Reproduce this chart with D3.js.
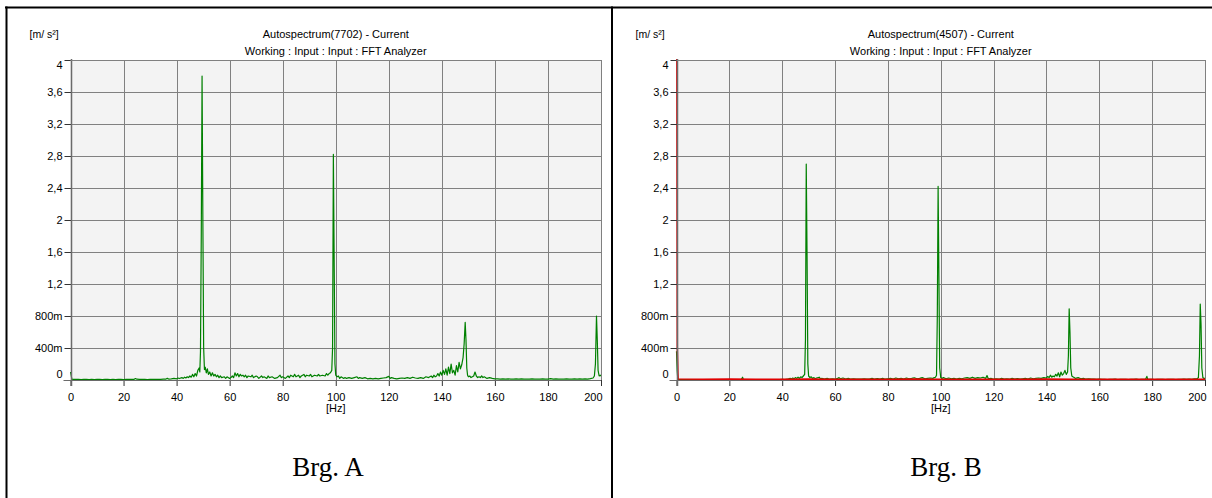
<!DOCTYPE html>
<html><head><meta charset="utf-8">
<script src="https://cdn.jsdelivr.net/npm/d3@7"></script>
<style>body{margin:0;background:#fff}svg{display:block}</style>
</head><body>
<svg id="c" width="1212" height="498"></svg>
<script>
// ---------- data ----------
const xTicks = [0,20,40,60,80,100,120,140,160,180,200];
const xTickLabels = ["0","20","40","60","80","100","120","140","160","180","200"];
const yTicks = [0,0.4,0.8,1.2,1.6,2,2.4,2.8,3.2,3.6,4];
const yTickLabels = ["0","400m","800m","1,2","1,6","2","2,4","2,8","3,2","3,6","4"];
const unitY = "[m/ s²]";
const unitX = "[Hz]";
const titleA = ["Autospectrum(7702) - Current","Working : Input : Input : FFT Analyzer"];
const titleB = ["Autospectrum(4507) - Current","Working : Input : Input : FFT Analyzer"];
const captionA = "Brg. A";
const captionB = "Brg. B";

// Brg. A green spectrum [Hz, m/s²]
const specA = [[0,0.10],[0.25,0.06],[0.5,0.01],[1,0.008],[2,0.007],[3,0.008],[4,0.006],[5,0.007],[6,0.008],[7,0.006],[8,0.007],[9,0.006],[10,0.008],[11,0.007],[12,0.006],[13,0.007],[14,0.008],[15,0.006],[16,0.007],[17,0.006],[18,0.007],[19,0.008],[20,0.006],[21,0.007],[22,0.008],[23,0.007],[24,0.008],[24.5,0.018],[25,0.01],[26,0.008],[27,0.007],[28,0.008],[29,0.006],[30,0.008],[31,0.007],[32,0.008],[33,0.009],[34,0.008],[35,0.01],[36,0.012],[36.5,0.02],[37,0.012],[38,0.015],[39,0.02],[40,0.015],[40.5,0.025],[41,0.018],[42,0.03],[42.5,0.02],[43,0.035],[43.5,0.025],[44,0.04],[44.5,0.03],[45,0.05],[45.5,0.035],[46,0.07],[46.5,0.04],[47,0.08],[47.5,0.05],[48,0.12],[48.5,0.15],[48.75,0.1],[49,0.35],[49.3,1.8],[49.6,3.8],[49.9,2.0],[50.2,0.4],[50.5,0.13],[50.8,0.16],[51.2,0.09],[51.6,0.14],[52,0.07],[52.5,0.1],[53,0.05],[53.5,0.09],[54,0.05],[54.5,0.07],[55,0.04],[55.5,0.06],[56,0.03],[56.5,0.05],[57,0.03],[58,0.04],[58.5,0.02],[59,0.04],[60,0.02],[60.5,0.03],[61,0.05],[61.5,0.03],[62,0.09],[62.5,0.05],[63,0.08],[63.5,0.04],[64,0.07],[64.5,0.05],[65,0.06],[65.5,0.04],[66,0.06],[66.5,0.03],[67,0.05],[68,0.04],[68.5,0.06],[69,0.03],[70,0.05],[70.5,0.04],[71,0.02],[72,0.05],[72.5,0.03],[73,0.04],[74,0.02],[74.5,0.05],[75,0.03],[76,0.04],[77,0.02],[78,0.03],[79,0.06],[79.5,0.03],[80,0.04],[81,0.02],[82,0.05],[82.5,0.03],[83,0.06],[84,0.04],[84.5,0.07],[85,0.04],[86,0.06],[86.5,0.03],[87,0.05],[88,0.07],[88.5,0.04],[89,0.06],[90,0.05],[90.5,0.07],[91,0.04],[92,0.06],[93,0.05],[93.5,0.07],[94,0.05],[95,0.06],[96,0.05],[96.5,0.08],[97,0.06],[97.5,0.08],[98,0.09],[98.5,0.12],[98.8,0.4],[99.1,2.82],[99.4,1.5],[99.7,0.2],[100,0.06],[100.5,0.04],[101,0.05],[101.5,0.02],[102,0.04],[103,0.02],[103.5,0.03],[104,0.02],[105,0.03],[106,0.02],[107,0.03],[108,0.04],[108.5,0.02],[109,0.03],[110,0.02],[111,0.03],[112,0.015],[113,0.02],[114,0.015],[115,0.02],[116,0.015],[117,0.02],[118,0.025],[119,0.03],[120,0.045],[120.5,0.02],[121,0.03],[122,0.02],[123,0.015],[124,0.02],[125,0.025],[126,0.02],[127,0.03],[128,0.02],[129,0.035],[130,0.025],[131,0.02],[132,0.03],[133,0.02],[134,0.04],[135,0.03],[136,0.05],[136.5,0.03],[137,0.06],[137.5,0.04],[138,0.05],[138.5,0.08],[139,0.05],[139.5,0.1],[140,0.06],[140.5,0.12],[141,0.07],[141.5,0.14],[142,0.06],[142.5,0.16],[143,0.08],[143.5,0.2],[144,0.09],[144.5,0.12],[145,0.06],[145.5,0.18],[146,0.1],[146.5,0.22],[147,0.14],[147.5,0.19],[148,0.28],[148.4,0.45],[148.8,0.72],[149.1,0.5],[149.4,0.15],[149.7,0.06],[150,0.04],[150.5,0.05],[151,0.03],[152,0.05],[152.5,0.1],[153,0.05],[153.5,0.03],[154,0.04],[154.5,0.03],[155,0.05],[155.5,0.03],[156,0.04],[157,0.02],[158,0.03],[159,0.02],[160,0.015],[161,0.015],[162,0.012],[163,0.014],[164,0.011],[165,0.013],[166,0.01],[167,0.012],[168,0.014],[169,0.011],[170,0.013],[171,0.01],[172,0.012],[173,0.011],[174,0.013],[175,0.01],[176,0.012],[177,0.011],[178,0.014],[179,0.01],[180,0.012],[181,0.018],[182,0.011],[183,0.013],[184,0.01],[185,0.012],[186,0.011],[187,0.013],[188,0.01],[189,0.012],[190,0.014],[191,0.011],[192,0.013],[193,0.01],[194,0.015],[195,0.012],[196,0.018],[197,0.025],[197.5,0.05],[197.9,0.2],[198.3,0.8],[198.6,0.5],[198.9,0.12],[199.3,0.05],[199.7,0.06],[200,0.05]];

// Brg. B green spectrum [Hz, m/s²]
const specB = [[0,0.36],[0.25,0.12],[0.5,0.008],[1,0.005],[2,0.004],[3,0.005],[4,0.004],[5,0.006],[6,0.004],[7,0.005],[8,0.004],[9,0.005],[10,0.006],[11,0.004],[12,0.005],[13,0.004],[14,0.005],[15,0.006],[16,0.004],[17,0.005],[18,0.004],[19,0.005],[20,0.006],[21,0.004],[22,0.005],[23,0.004],[24,0.005],[24.5,0.006],[25,0.035],[25.3,0.008],[26,0.005],[27,0.004],[28,0.005],[29,0.004],[30,0.005],[31,0.006],[32,0.004],[33,0.005],[34,0.004],[35,0.005],[36,0.006],[37,0.005],[38,0.006],[39,0.005],[40,0.008],[41,0.006],[42,0.01],[43,0.02],[43.5,0.012],[44,0.025],[44.5,0.015],[45,0.03],[45.5,0.02],[46,0.035],[46.5,0.02],[47,0.04],[47.5,0.03],[48,0.05],[48.5,0.07],[48.8,0.5],[49.1,2.7],[49.4,1.6],[49.7,0.2],[50,0.05],[50.5,0.03],[51,0.04],[51.5,0.02],[52,0.03],[52.5,0.015],[53,0.025],[54,0.035],[54.5,0.015],[55,0.02],[56,0.012],[57,0.02],[58,0.01],[59,0.015],[60,0.01],[61,0.02],[61.5,0.03],[62,0.015],[63,0.025],[64,0.012],[65,0.02],[66,0.01],[67,0.015],[68,0.01],[69,0.012],[70,0.01],[71,0.015],[72,0.01],[73,0.012],[74,0.02],[75,0.01],[76,0.018],[77,0.012],[78,0.02],[79,0.01],[80,0.015],[81,0.02],[82,0.012],[83,0.025],[84,0.015],[85,0.02],[86,0.012],[87,0.025],[88,0.015],[89,0.02],[90,0.028],[91,0.015],[92,0.02],[93,0.03],[94,0.015],[95,0.02],[96,0.025],[97,0.02],[97.5,0.03],[98,0.035],[98.4,0.06],[98.7,0.8],[99,2.42],[99.3,1.3],[99.6,0.15],[100,0.03],[100.5,0.02],[101,0.03],[102,0.015],[103,0.025],[104,0.015],[105,0.02],[106,0.012],[107,0.02],[108,0.015],[109,0.025],[110,0.03],[111,0.02],[112,0.035],[113,0.02],[114,0.03],[115,0.025],[116,0.035],[117,0.02],[117.5,0.055],[118,0.015],[119,0.02],[120,0.01],[121,0.015],[122,0.01],[123,0.02],[124,0.012],[125,0.015],[126,0.01],[127,0.02],[128,0.012],[129,0.018],[130,0.01],[131,0.015],[132,0.02],[133,0.012],[134,0.025],[135,0.015],[136,0.02],[137,0.025],[138,0.02],[139,0.03],[140,0.025],[140.5,0.045],[141,0.03],[141.5,0.06],[142,0.035],[142.5,0.05],[143,0.04],[143.5,0.07],[144,0.05],[144.5,0.09],[145,0.04],[145.5,0.1],[146,0.06],[146.5,0.08],[147,0.12],[147.5,0.07],[148,0.1],[148.3,0.3],[148.6,0.89],[148.9,0.6],[149.2,0.15],[149.6,0.05],[150,0.04],[150.5,0.03],[151,0.02],[152,0.03],[153,0.015],[154,0.02],[155,0.01],[156,0.015],[157,0.01],[158,0.012],[159,0.008],[160,0.01],[161,0.007],[162,0.009],[163,0.006],[164,0.008],[165,0.007],[166,0.01],[167,0.006],[168,0.008],[169,0.007],[170,0.009],[171,0.006],[172,0.008],[173,0.007],[174,0.01],[175,0.006],[176,0.008],[177,0.007],[177.5,0.01],[178,0.045],[178.3,0.01],[179,0.007],[180,0.008],[181,0.006],[182,0.009],[183,0.007],[184,0.008],[185,0.006],[186,0.009],[187,0.007],[188,0.008],[189,0.006],[190,0.009],[191,0.007],[192,0.01],[193,0.008],[194,0.012],[195,0.009],[196,0.015],[197,0.015],[197.5,0.03],[197.9,0.3],[198.2,0.95],[198.5,0.7],[198.8,0.15],[199.2,0.03],[199.6,0.02],[200,0.02]];

// Brg. B red trace [Hz, m/s²]
const redB = [[0,8],[0.3,0.4],[0.6,0.012],[10,0.010],[20,0.011],[30,0.009],[40,0.010],[50,0.011],[60,0.010],[70,0.009],[80,0.010],[90,0.011],[100,0.010],[110,0.010],[120,0.009],[130,0.010],[140,0.011],[150,0.010],[160,0.009],[170,0.010],[180,0.010],[190,0.009],[200,0.010]];

// ---------- drawing ----------
const svg = d3.select("#c");
const FONT = "'Liberation Sans', Arial, sans-serif";

// outer frame
svg.append("line").attr("x1",5).attr("x2",1212).attr("y1",7.5).attr("y2",7.5).attr("stroke","#000").attr("stroke-width",2);
svg.append("line").attr("x1",6.5).attr("x2",6.5).attr("y1",6.5).attr("y2",498).attr("stroke","#000").attr("stroke-width",2);
svg.append("line").attr("x1",612).attr("x2",612).attr("y1",6.5).attr("y2",498).attr("stroke","#000").attr("stroke-width",2);

function panel(cfg, idx){
  const g = svg.append("g");
  const x = d3.scaleLinear().domain([0,200]).range([cfg.x0, cfg.x1]);
  const y = d3.scaleLinear().domain([0,4]).range([380,60]);
  const px = v => Math.round(x(v)) + 0.5;
  const py = v => Math.round(y(v)) + 0.5;

  g.append("rect").attr("x",cfg.x0).attr("y",60).attr("width",cfg.x1-cfg.x0).attr("height",320).attr("fill","#f3f3f3");

  // grid
  g.append("g").selectAll("line").data(xTicks.slice(1)).join("line")
    .attr("x1",d=>px(d)).attr("x2",d=>px(d)).attr("y1",60).attr("y2",380)
    .attr("stroke","#808080").attr("stroke-width",1);
  g.append("g").selectAll("line").data(yTicks.slice(1)).join("line")
    .attr("x1",cfg.x0).attr("x2",cfg.x1).attr("y1",d=>py(d)).attr("y2",d=>py(d))
    .attr("stroke","#808080").attr("stroke-width",1);

  // clip
  const cid = "clip"+idx;
  svg.append("clipPath").attr("id",cid).append("rect")
    .attr("x",cfg.x0-2).attr("y",59).attr("width",cfg.x1-cfg.x0+3).attr("height",322);

  const line = d3.line().x(d=>x(d[0])).y(d=>y(d[1]));
  cfg.series.forEach(s=>{
    g.append("path").datum(s.data).attr("d",line).attr("fill","none")
      .attr("stroke",s.color).attr("stroke-width",s.width).attr("stroke-linejoin","round")
      .attr("clip-path",`url(#${cid})`);
  });

  // axes
  const ax = g.append("g").attr("transform","translate(0,380)")
    .call(d3.axisBottom(x).tickValues(xTicks).tickFormat((d,i)=>xTickLabels[i]).tickSize(6).tickPadding(7));
  const ay = g.append("g").attr("transform",`translate(${Math.round(cfg.x0)+0.5},0)`)
    .call(d3.axisLeft(y).tickValues(yTicks).tickFormat((d,i)=>yTickLabels[i]).tickSize(7).tickPadding(2));
  [ax,ay].forEach(a=>{
    a.select(".domain").remove();
    a.selectAll("line").attr("stroke","#333");
    a.selectAll("text").attr("font-family",FONT).attr("font-size",11).attr("fill","#000");
  });
  ax.selectAll(".tick").filter(d=>d===200).select("text").attr("text-anchor","end").attr("x",1);
  ay.selectAll(".tick").filter(d=>d===4).select("text").attr("dy","0.8em");
  ay.selectAll(".tick").filter(d=>d===0).select("text").attr("dy","-0.2em");

  // axis lines
  g.append("line").attr("x1",Math.round(cfg.x0)+0.5).attr("x2",Math.round(cfg.x0)+0.5).attr("y1",59).attr("y2",386)
    .attr("stroke","#6a6a6a").attr("stroke-width",1.5);
  g.append("line").attr("x1",cfg.x0-7).attr("x2",cfg.x1).attr("y1",380.5).attr("y2",380.5)
    .attr("stroke","#6a6a6a").attr("stroke-width",1);
  // top/right border
  g.append("line").attr("x1",cfg.x0).attr("x2",cfg.x1).attr("y1",60.5).attr("y2",60.5).attr("stroke","#808080");
  g.append("line").attr("x1",Math.round(cfg.x1)+0.5).attr("x2",Math.round(cfg.x1)+0.5).attr("y1",60).attr("y2",380).attr("stroke","#808080");

  // texts
  const cx = (cfg.x0+cfg.x1)/2;
  g.append("text").attr("x",cfg.x0-41).attr("y",38).text(unitY)
    .attr("font-family",FONT).attr("font-size",10.5);
  g.append("text").attr("x",cx).attr("y",38).attr("text-anchor","middle").text(cfg.title[0])
    .attr("font-family",FONT).attr("font-size",11);
  g.append("text").attr("x",cx).attr("y",55).attr("text-anchor","middle").text(cfg.title[1])
    .attr("font-family",FONT).attr("font-size",11);
  g.append("text").attr("x",x(100)).attr("y",412).attr("text-anchor","middle").text(unitX)
    .attr("font-family",FONT).attr("font-size",11);
  g.append("text").attr("x",cfg.capX).attr("y",476).attr("text-anchor","middle").text(cfg.caption)
    .attr("font-family","'Liberation Serif','Times New Roman',serif").attr("font-size",27);
}

panel({x0:70.5, x1:601, title:titleA, caption:captionA, capX:328,
  series:[{data:specA, color:"#008000", width:1.2}]}, 0);
panel({x0:676.5, x1:1205, title:titleB, caption:captionB, capX:946,
  series:[{data:specB, color:"#008000", width:1.2},{data:redB, color:"#e00000", width:1.6}]}, 1);
</script>
</body></html>
